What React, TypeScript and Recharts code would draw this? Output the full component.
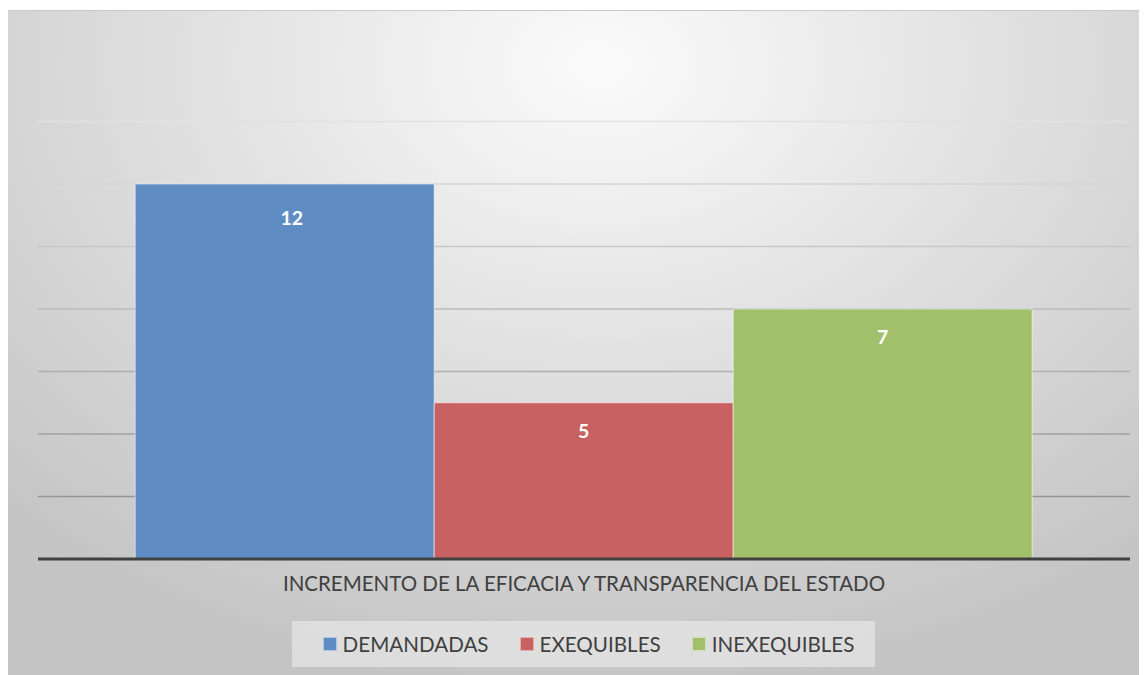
import { BarChart, Bar, XAxis, YAxis, CartesianGrid, Legend, LabelList } from "recharts";

const categories = ["INCREMENTO DE LA EFICACIA Y TRANSPARENCIA DEL ESTADO"];
// bar heights as drawn in the picture
const demandadas = [12];
const exequibles = [5];
const inexequibles = [8];
// data labels as printed on the bars
const demandadasLabels = ["12"];
const exequiblesLabels = ["5"];
const inexequiblesLabels = ["7"];
const yTicks = [0, 2, 4, 6, 8, 10, 12, 14];

const series = [
  { key: "DEMANDADAS", color: "#5f8dc3", values: demandadas, labels: demandadasLabels, dx: 7, offset: 27 },
  { key: "EXEQUIBLES", color: "#c86161", values: exequibles, labels: exequiblesLabels, dx: 0, offset: 21 },
  { key: "INEXEQUIBLES", color: "#a2c06b", values: inexequibles, labels: inexequiblesLabels, dx: 0, offset: 21 },
];

const data = categories.map((name, i) => {
  const row: Record<string, string | number> = { name };
  series.forEach((s) => {
    row[s.key] = s.values[i];
    row[s.key + "_label"] = s.labels[i];
  });
  return row;
});

const FONT = "Lato, 'Open Sans', sans-serif";

function LegendBox() {
  return (
    <div
      style={{
        width: 583,
        height: 46,
        boxSizing: "border-box",
        paddingLeft: 10,
        background: "rgba(240,240,240,0.55)",
        display: "flex",
        alignItems: "center",
        justifyContent: "center",
        gap: 31,
        fontFamily: FONT,
        fontSize: 20.6,
        color: "#404040",
      }}
    >
      {series.map((s) => (
        <span key={s.key} style={{ display: "flex", alignItems: "center" }}>
          <span
            style={{
              width: 12,
              height: 12,
              background: s.color,
              border: "1px solid rgba(255,255,255,0.5)",
              marginRight: 6,
              display: "inline-block",
            }}
          />
          {s.key}
        </span>
      ))}
    </div>
  );
}

function CategoryTick(props: any) {
  const { x, y, payload } = props;
  return (
    <text x={x} y={y} dy={24} textAnchor="middle" fill="#404040" fontSize={20.5} fontFamily={FONT}>
      {payload.value}
    </text>
  );
}

export default function App() {
  return (
    <div
      style={{
        position: "relative",
        marginLeft: -1,
        marginTop: 2,
        width: 1141,
        height: 665,
        borderTop: "1px solid #c9c9c9",
        background: "radial-gradient(ellipse 75% 95% at 52% 8%, #fbfbfb 0%, #e2e2e2 45%, #c4c4c4 100%)",
      }}
    >
      <BarChart
        width={1141}
        height={665}
        data={data}
        margin={{ top: 48, right: 18, left: 31, bottom: 31 }}
        barCategoryGap="8.9%"
        barGap={0}
      >
        <defs>
          <linearGradient id="gridFade" gradientUnits="userSpaceOnUse" x1="0" y1="58" x2="0" y2="558">
            <stop offset="0%" stopColor="#ffffff" stopOpacity={0} />
            <stop offset="5%" stopColor="#ffffff" stopOpacity={0} />
            <stop offset="10%" stopColor="#e2e2e2" />
            <stop offset="100%" stopColor="#858585" />
          </linearGradient>
        </defs>
        <CartesianGrid vertical={false} stroke="url(#gridFade)" strokeWidth={1.3} />
        <XAxis
          dataKey="name"
          tick={<CategoryTick />}
          tickLine={false}
          axisLine={{ stroke: "#404040", strokeWidth: 3 }}
          height={40}
        />
        <YAxis hide domain={[0, 16]} ticks={yTicks} />
        <Legend
          verticalAlign="bottom"
          content={<LegendBox />}
          wrapperStyle={{ left: 285, top: 610, width: 583, height: 46 }}
        />
        {series.map((s) => (
          <Bar
            key={s.key}
            dataKey={s.key}
            fill={s.color}
            stroke="rgba(255,255,255,0.55)"
            strokeWidth={1}
            isAnimationActive={false}
          >
            <LabelList
              dataKey={s.key + "_label"}
              position="insideTop"
              offset={s.offset}
              dx={s.dx}
              fill="#ffffff"
              fontSize={19.5}
              fontWeight="bold"
              fontFamily={FONT}
            />
          </Bar>
        ))}
      </BarChart>
    </div>
  );
}
